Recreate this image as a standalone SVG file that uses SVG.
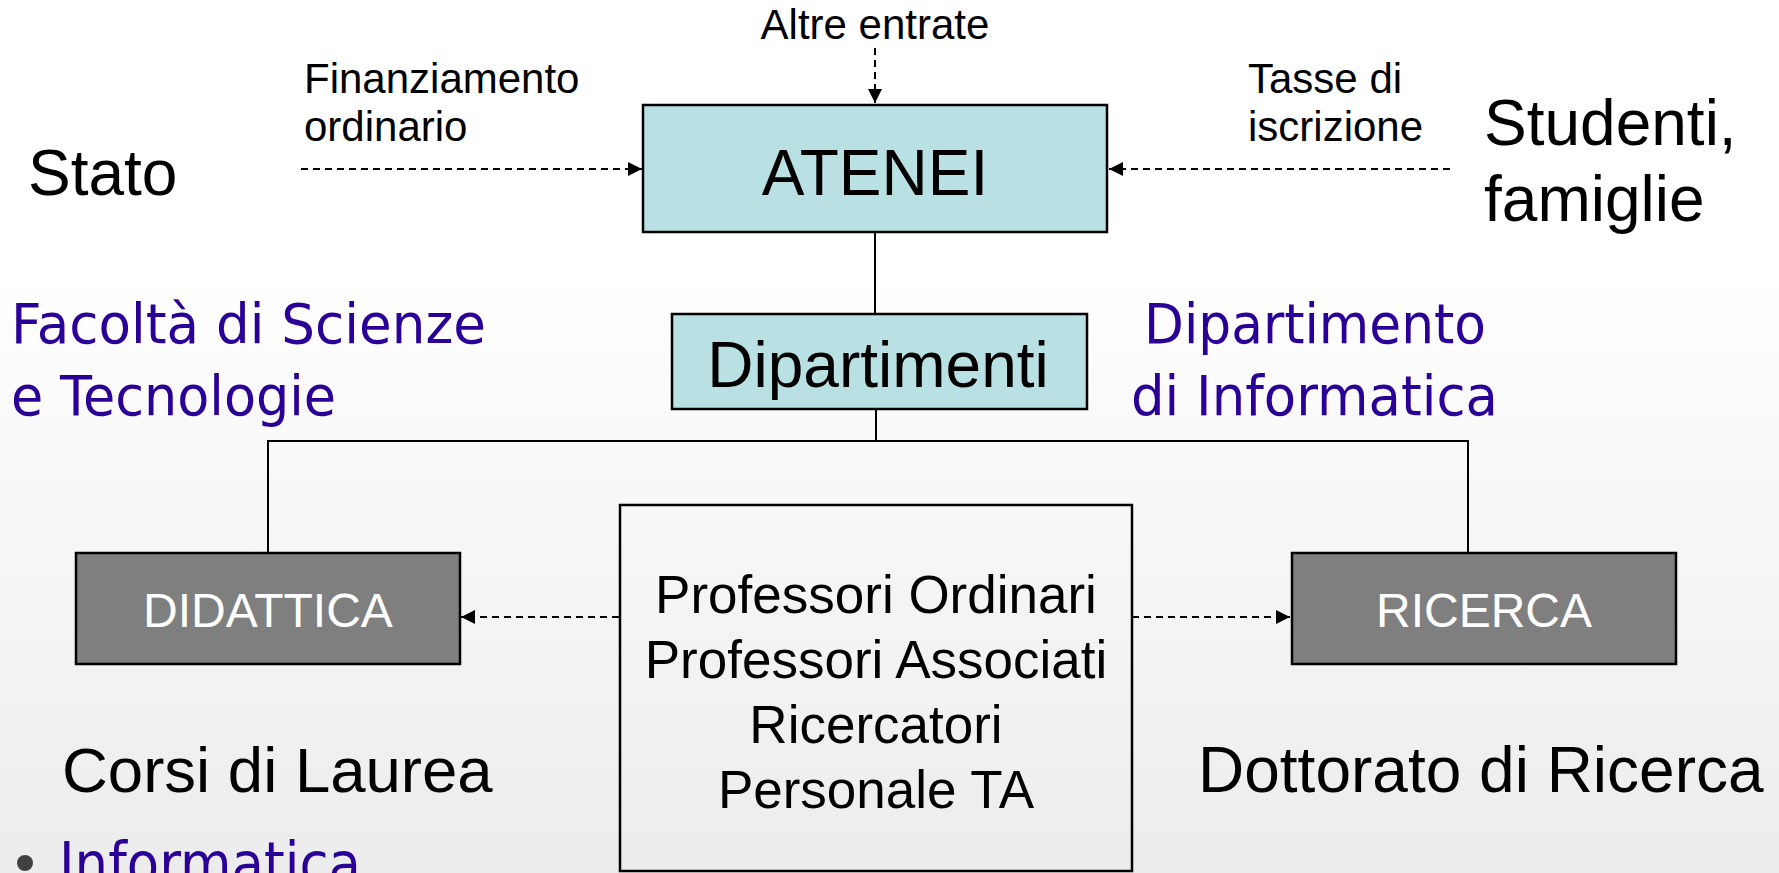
<svg xmlns="http://www.w3.org/2000/svg" width="1779" height="873" viewBox="0 0 1779 873">
<defs>
<linearGradient id="bg" x1="0" y1="0" x2="0" y2="1">
<stop offset="0" stop-color="#ffffff"/>
<stop offset="0.3" stop-color="#ffffff"/>
<stop offset="1" stop-color="#ececec"/>
</linearGradient>
<marker id="ah" viewBox="0 0 14 14" refX="14" refY="7" markerWidth="14" markerHeight="14" markerUnits="userSpaceOnUse" orient="auto">
<path d="M0,0 L14,7 L0,14 Z" fill="#000"/>
</marker>
<style>
.lbl{font-family:"Liberation Sans",Arial,sans-serif;fill:#000}
.blue{font-family:"DejaVu Sans",Verdana,sans-serif;fill:#2a0096}
.box{stroke:#000;stroke-width:2.5}
.teal{fill:#b9e0e3}
.gray{fill:#7f7f7f}
.dash{fill:none;stroke:#000;stroke-width:2;stroke-dasharray:7 5}
.solid{fill:none;stroke:#000;stroke-width:2}
</style>
</defs>
<rect x="0" y="0" width="1779" height="873" fill="url(#bg)"/>

<g id="connectors">
<line class="dash" x1="875" y1="48" x2="875" y2="103" marker-end="url(#ah)"/>
<line class="dash" x1="301" y1="169" x2="642" y2="169" marker-end="url(#ah)"/>
<line class="dash" x1="1450" y1="169" x2="1109" y2="169" marker-end="url(#ah)"/>
<line class="solid" x1="875" y1="232" x2="875" y2="314"/>
<polyline class="solid" points="876,409 876,441 268,441 268,553"/>
<polyline class="solid" points="876,441 1468,441 1468,553"/>
<line class="dash" x1="619" y1="617" x2="461" y2="617" marker-end="url(#ah)"/>
<line class="dash" x1="1132" y1="617" x2="1290" y2="617" marker-end="url(#ah)"/>
</g>

<g id="altre-entrate"><text class="lbl" x="875" y="39" font-size="42" text-anchor="middle">Altre entrate</text></g>
<g id="finanziamento"><text class="lbl" x="304" y="93" font-size="42">Finanziamento</text><text class="lbl" x="304" y="141" font-size="42">ordinario</text></g>
<g id="stato"><text class="lbl" x="28" y="195" font-size="64">Stato</text></g>
<g id="tasse"><text class="lbl" x="1248" y="93" font-size="42">Tasse di</text><text class="lbl" x="1248" y="141" font-size="42">iscrizione</text></g>
<g id="studenti"><text class="lbl" x="1484" y="145" font-size="64">Studenti,</text><text class="lbl" x="1484" y="221" font-size="64">famiglie</text></g>

<g id="atenei">
<rect class="box teal" x="643" y="105" width="464" height="127"/>
<text class="lbl" x="875" y="195" font-size="64" text-anchor="middle">ATENEI</text>
</g>

<g id="dipartimenti">
<rect class="box teal" x="672" y="314" width="415" height="95"/>
<text class="lbl" x="878" y="387" font-size="64" text-anchor="middle">Dipartimenti</text>
</g>

<g id="facolta">
<text class="blue" x="11" y="343" font-size="55" textLength="475" lengthAdjust="spacingAndGlyphs">Facoltà di Scienze</text>
<text class="blue" x="11" y="415" font-size="55" textLength="325" lengthAdjust="spacingAndGlyphs">e Tecnologie</text>
</g>

<g id="dip-informatica">
<text class="blue" x="1144" y="343" font-size="55" textLength="342" lengthAdjust="spacingAndGlyphs">Dipartimento</text>
<text class="blue" x="1131" y="415" font-size="55" textLength="367" lengthAdjust="spacingAndGlyphs">di Informatica</text>
</g>

<g id="didattica">
<rect class="box gray" x="76" y="553" width="384" height="111"/>
<text x="268" y="627" font-size="48" text-anchor="middle" font-family="Liberation Sans, Arial, sans-serif" fill="#ffffff">DIDATTICA</text>
</g>

<g id="ricerca">
<rect class="box gray" x="1292" y="553" width="384" height="111"/>
<text x="1484" y="627" font-size="48" text-anchor="middle" font-family="Liberation Sans, Arial, sans-serif" fill="#ffffff">RICERCA</text>
</g>

<g id="personale">
<rect class="box" x="620" y="505" width="512" height="366" fill="none"/>
<text class="lbl" x="876" y="613" font-size="53" text-anchor="middle">Professori Ordinari</text>
<text class="lbl" x="876" y="678" font-size="53" text-anchor="middle">Professori Associati</text>
<text class="lbl" x="876" y="743" font-size="53" text-anchor="middle">Ricercatori</text>
<text class="lbl" x="876" y="808" font-size="53" text-anchor="middle">Personale TA</text>
</g>

<g id="corsi"><text class="lbl" x="62" y="792" font-size="63.5">Corsi di Laurea</text></g>
<g id="dottorato"><text class="lbl" x="1198" y="792" font-size="64">Dottorato di Ricerca</text></g>

<g id="informatica">
<circle cx="25" cy="863" r="8" fill="#404040"/>
<text class="blue" x="59" y="884" font-size="58" textLength="302" lengthAdjust="spacingAndGlyphs">Informatica</text>
</g>
</svg>
